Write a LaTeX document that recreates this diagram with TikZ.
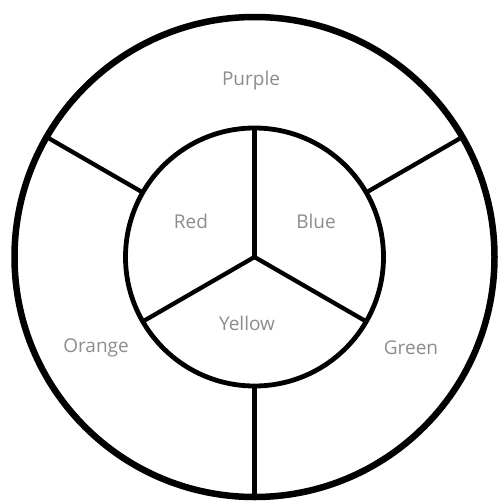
\documentclass[tikz,border=0pt]{standalone}
\usepackage{fontspec}
\setmainfont{Open Sans}
\definecolor{labelgray}{RGB}{140,140,140}
\begin{document}
\begin{tikzpicture}[x=1pt,y=-1pt,
  ring/.style={draw=black,line width=#1},
  spoke/.style={draw=black,line width=4.3pt},
  lbl/.style={text=labelgray,font=\fontsize{19}{22}\selectfont,inner sep=0pt}]
\useasboundingbox (0,0) rectangle (501,504);
\coordinate (c) at (254.5,257);
% rings
\draw[ring=6.5pt] (c) circle (240);
\draw[ring=4.8pt] (c) circle (129);
% inner spokes
\path (c) ++(0,-129) coordinate (iu)
      (c) ++(-111.7,64.5) coordinate (il)
      (c) ++(111.7,64.5) coordinate (ir);
\draw[spoke] (c) -- (iu);
\draw[spoke] (c) -- (il);
\draw[spoke] (c) -- (ir);
% outer spokes
\path (c) ++(-111.7,-64.5) coordinate (a1) ++(-96.2,-55.5) coordinate (b1)
      (c) ++(111.7,-64.5) coordinate (a2) ++(96.2,-55.5) coordinate (b2)
      (c) ++(0,129) coordinate (a3) ++(0,111) coordinate (b3);
\draw[spoke] (a1) -- (b1);
\draw[spoke] (a2) -- (b2);
\draw[spoke] (a3) -- (b3);
% labels
\node[lbl] (purple) at (251,81) {Purple};
\node[lbl] (red) at (191,221) {Red};
\node[lbl] (blue) at (316,221) {Blue};
\node[lbl] (yellow) at (247,323) {Yellow};
\node[lbl] (orange) at (96,348) {Orange};
\node[lbl] (green) at (411,348) {Green};
\end{tikzpicture}
\end{document}
